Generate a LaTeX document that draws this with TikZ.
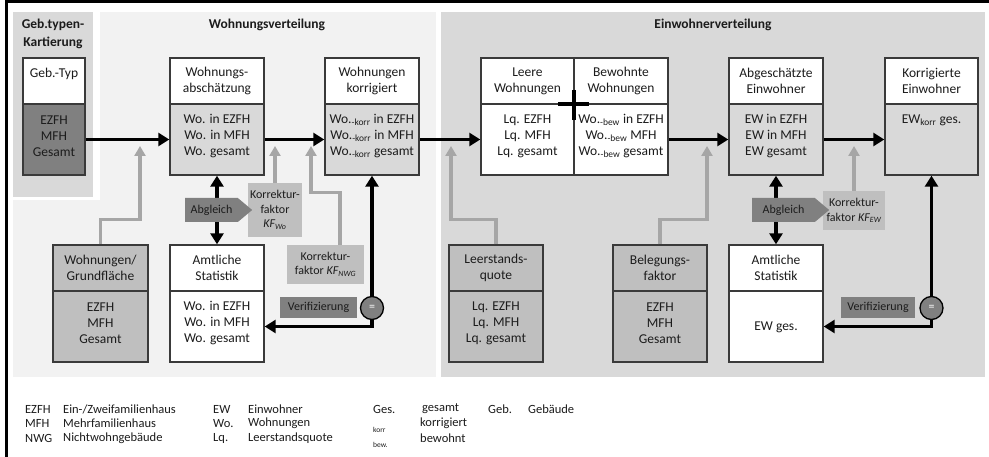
\documentclass[tikz,border=0pt]{standalone}
\usepackage{fontspec}
\setmainfont{Carlito}
\usetikzlibrary{arrows.meta,shapes.symbols}
\definecolor{pLight}{HTML}{F2F2F2}
\definecolor{pMid}{HTML}{D9D9D9}
\definecolor{gMid}{HTML}{BFBFBF}
\definecolor{gDark}{HTML}{808080}
\definecolor{gArrow}{HTML}{A6A6A6}
\definecolor{bord}{HTML}{3A3A3A}
\definecolor{ink}{HTML}{1C1C1C}
\newcommand\fsA{\fontsize{13.5}{16}\selectfont}
\newcommand\fsB{\fontsize{12}{14.5}\selectfont}
\newcommand\fsL{\fontsize{12.5}{14}\selectfont}
\newcommand\fsS{\fontsize{7.5}{9}\selectfont}
\begin{document}
\begin{tikzpicture}[x=1pt,y=-1pt,
  part/.style={draw=bord,line width=1.4pt,inner sep=0pt,align=center,font=\fsA,text=ink},
  txt/.style={inner sep=0pt,align=center,font=\fsA,text=ink},
  ttl/.style={inner sep=0pt,align=center,font=\fontsize{13.5}{17.5}\selectfont\bfseries,text=ink},
  kf/.style={fill=gMid,inner sep=0pt,align=center,font=\fsB,text=ink},
  abg/.style={signal,signal to=east,signal from=nowhere,signal pointer angle=80,fill=gDark,
    font=\fsB,text=ink,inner sep=0pt,minimum height=24pt},
  verif/.style={fill=gDark,inner sep=0pt,font=\fsB,text=ink,minimum height=21pt},
  eqc/.style={circle,draw=black,line width=1.3pt,fill=gDark,minimum size=23pt,inner sep=0pt,font=\fsB,text=white},
  barrow/.style={draw=black,line width=3.4pt,-{Triangle[length=11pt,width=13pt]}},
  bdarrow/.style={draw=black,line width=3.4pt,{Triangle[length=11pt,width=13pt]}-{Triangle[length=11pt,width=13pt]}},
  garrow/.style={draw=gArrow,line width=3.2pt,-{Triangle[length=10pt,width=11pt]}},
  leg/.style={inner sep=0pt,anchor=west,font=\fsL,text=ink},
  legs/.style={inner sep=0pt,anchor=west,font=\fsS,text=ink}]
\useasboundingbox (0,0) rectangle (989,457);
\fill[white] (0,0) rectangle (989,457);
% panels
\fill[pLight] (13,12) rectangle (436,377);
\fill[white] (13,12) rectangle (100,200);
\fill[pMid] (13,12) rectangle (93,197);
\fill[pMid] (441,12) rectangle (985,377);
% frame
\draw[line width=3pt] (6.5,457) -- (6.5,1.5) -- (989,1.5);
% titles
\node[ttl] (tt1) at (53,34) {Geb.typen-\\Kartierung};
\node[ttl] (tt2) at (267,25) {Wohnungsverteilung};
\node[ttl] (tt3) at (713,25) {Einwohnerverteilung};
% gray arrow end points
\coordinate (g1) at (140,146);
\coordinate (g2) at (275,146);
\coordinate (g3) at (311,146);
\coordinate (g4) at (451,146);
\coordinate (g5) at (707,146);
\coordinate (g6) at (854,146);
% top row boxes
\node[part,fill=white,minimum width=62pt,minimum height=46pt] (gt-t) at (54,81) {};
\node[part,fill=gDark,minimum width=62pt,minimum height=71pt] (gt-b) at (54,139.5) {};
\node[part,fill=white,minimum width=94pt,minimum height=46pt] (wa-t) at (217,81) {Wohnungs-\\abschätzung};
\node[part,fill=pMid,minimum width=94pt,minimum height=71pt] (wa-b) at (217,139.5) {};
\node[part,fill=white,minimum width=94pt,minimum height=46pt] (wk-t) at (372,81) {Wohnungen\\korrigiert};
\node[part,fill=pMid,minimum width=94pt,minimum height=71pt] (wk-b) at (372,139.5) {};
\node[part,fill=white,minimum width=93pt,minimum height=46pt] (lw-t) at (527.5,81) {Leere\\Wohnungen};
\node[part,fill=white,minimum width=94pt,minimum height=46pt] (bw-t) at (621,81) {Bewohnte\\Wohnungen};
\node[part,fill=white,minimum width=93pt,minimum height=71pt] (lw-b) at (527.5,139.5) {};
\node[part,fill=white,minimum width=94pt,minimum height=71pt] (bw-b) at (621,139.5) {};
\node[part,fill=white,minimum width=94pt,minimum height=46pt] (ae-t) at (776,81) {Abgeschätzte\\Einwohner};
\node[part,fill=pMid,minimum width=94pt,minimum height=71pt] (ae-b) at (776,139.5) {};
\node[part,fill=white,minimum width=93pt,minimum height=46pt] (ke-t) at (931.5,81) {Korrigierte\\Einwohner};
\node[part,fill=pMid,minimum width=93pt,minimum height=71pt] (ke-b) at (931.5,139.5) {};
% lower row boxes
\node[part,fill=gMid,minimum width=95pt,minimum height=46pt] (wg-t) at (100.5,268) {Wohnungen/\\Grundfläche};
\node[part,fill=gMid,minimum width=95pt,minimum height=71pt] (wg-b) at (100.5,326.5) {};
\node[part,fill=white,minimum width=94pt,minimum height=46pt] (am1-t) at (217,268) {Amtliche\\Statistik};
\node[part,fill=white,minimum width=94pt,minimum height=71pt] (am1-b) at (217,326.5) {};
\node[part,fill=gMid,minimum width=94pt,minimum height=46pt] (ls-t) at (496,268) {Leerstands-\\quote};
\node[part,fill=gMid,minimum width=94pt,minimum height=71pt] (ls-b) at (496,326.5) {};
\node[part,fill=gMid,minimum width=94pt,minimum height=46pt] (bf-t) at (660,268) {Belegungs-\\faktor};
\node[part,fill=gMid,minimum width=94pt,minimum height=71pt] (bf-b) at (660,326.5) {};
\node[part,fill=white,minimum width=94pt,minimum height=46pt] (am2-t) at (776,268) {Amtliche\\Statistik};
\node[part,fill=white,minimum width=94pt,minimum height=71pt] (am2-b) at (776,326.5) {};
% correction factor boxes
\node[kf,minimum width=54pt,minimum height=54pt] (kfw) at (275,210) {Korrektur-\\faktor\\\textit{KF\textsubscript{Wo}}};
\node[kf,minimum width=77pt,minimum height=39pt] (kfn) at (325.5,264.5) {Korrektur-\\faktor \textit{KF\textsubscript{NWG}}};
\node[kf,minimum width=62pt,minimum height=39pt] (kfe) at (854,210.5) {Korrektur-\\faktor \textit{KF\textsubscript{EW}}};
% gray arrows
\draw[garrow] (wg-t.north) -- ++(0,-25) -| (g1);
\draw[garrow] (kfw.north) -- (g2);
\draw[garrow] (kfn.north) ++(14.5,0) -- ++(0,-52) -| (g3);
\draw[garrow] (ls-t.north) -- ++(0,-25) -| (g4);
\draw[garrow] (bf-t.north) -- ++(0,-25) -| (g5);
\draw[garrow] (kfe.north) -- (g6);
% black arrows
\draw[barrow] (gt-b.east) -- (wa-b.west);
\draw[barrow] (wa-b.east) -- (wk-b.west);
\draw[barrow] (wk-b.east) -- (lw-b.west);
\draw[barrow] (bw-b.east) -- (ae-b.west);
\draw[barrow] (ae-b.east) -- (ke-b.west);
\draw[bdarrow] (wa-b.south) -- (am1-t.north);
\draw[bdarrow] (ae-b.south) -- (am2-t.north);
\draw[bdarrow] (am1-b.east) -| (wk-b.south);
\draw[bdarrow] (am2-b.east) -| (ke-b.south);
% plus sign
\draw[line width=4pt] (558,104) -- (589,104) (574,90) -- (574,120);
% Abgleich, Verifizierung
\node[abg,minimum width=67pt] (ab1) at (211.5,210) {Abgleich};
\node[abg,minimum width=77pt] (ab2) at (783.5,210) {Abgleich};
\node[verif,minimum width=77pt] (vf1) at (318.5,307.5) {Verifizierung};
\node[verif,minimum width=74pt] (vf2) at (878,307.5) {Verifizierung};
\node[eqc] (eq1) at (372,308) {=};
\node[eqc] (eq2) at (931.5,308) {=};
% box texts
\node[txt] (x1) at (54,74) {Geb.-Typ};
\node[txt] (x2) at (54,136) {EZFH\\MFH\\Gesamt};
\node[txt] (x3) at (217,136) {Wo. in EZFH\\Wo. in MFH\\Wo. gesamt};
\node[txt] (x4) at (372,136) {Wo.\textsubscript{-korr} in EZFH\\Wo.\textsubscript{-korr} in MFH\\Wo.\textsubscript{-korr} gesamt};
\node[txt] (x5) at (527.5,136) {Lq. EZFH\\Lq. MFH\\Lq. gesamt};
\node[txt] (x6) at (621,136) {Wo.\textsubscript{-bew} in EZFH\\Wo.\textsubscript{-bew} MFH\\Wo.\textsubscript{-bew} gesamt};
\node[txt] (x7) at (776,136) {EW in EZFH\\EW in MFH\\EW gesamt};
\node[txt] (x8) at (931.5,120) {EW\textsubscript{korr} ges.};
\node[txt] (x9) at (100.5,323) {EZFH\\MFH\\Gesamt};
\node[txt] (x10) at (217,323) {Wo. in EZFH\\Wo. in MFH\\Wo. gesamt};
\node[txt] (x11) at (496,323) {Lq. EZFH\\Lq. MFH\\Lq. gesamt};
\node[txt] (x12) at (660,323) {EZFH\\MFH\\Gesamt};
\node[txt] (x13) at (776,327) {EW ges.};
% legend
\node[leg] (l1) at (25,409) {EZFH};
\node[leg] (l2) at (25,423.5) {MFH};
\node[leg] (l3) at (25,438) {NWG};
\node[leg] (l4) at (63,409) {Ein-/Zweifamilienhaus};
\node[leg] (l5) at (63,423.5) {Mehrfamilienhaus};
\node[leg] (l6) at (63,438) {Nichtwohngebäude};
\node[leg] (l7) at (213,409) {EW};
\node[leg] (l8) at (213,423.5) {Wo.};
\node[leg] (l9) at (213,438) {Lq.};
\node[leg] (l10) at (248,409) {Einwohner};
\node[leg] (l11) at (248,423.5) {Wohnungen};
\node[leg] (l12) at (248,438) {Leerstandsquote};
\node[leg] (l13) at (373,409) {Ges.};
\node[legs] (l14) at (373,430) {korr};
\node[legs] (l15) at (373,445) {bew.};
\node[leg] (l16) at (422,409) {gesamt};
\node[leg] (l17) at (420,423.5) {korrigiert};
\node[leg] (l18) at (420,438) {bewohnt};
\node[leg] (l19) at (488,409) {Geb.};
\node[leg] (l20) at (528,409) {Gebäude};
\end{tikzpicture}
\end{document}
